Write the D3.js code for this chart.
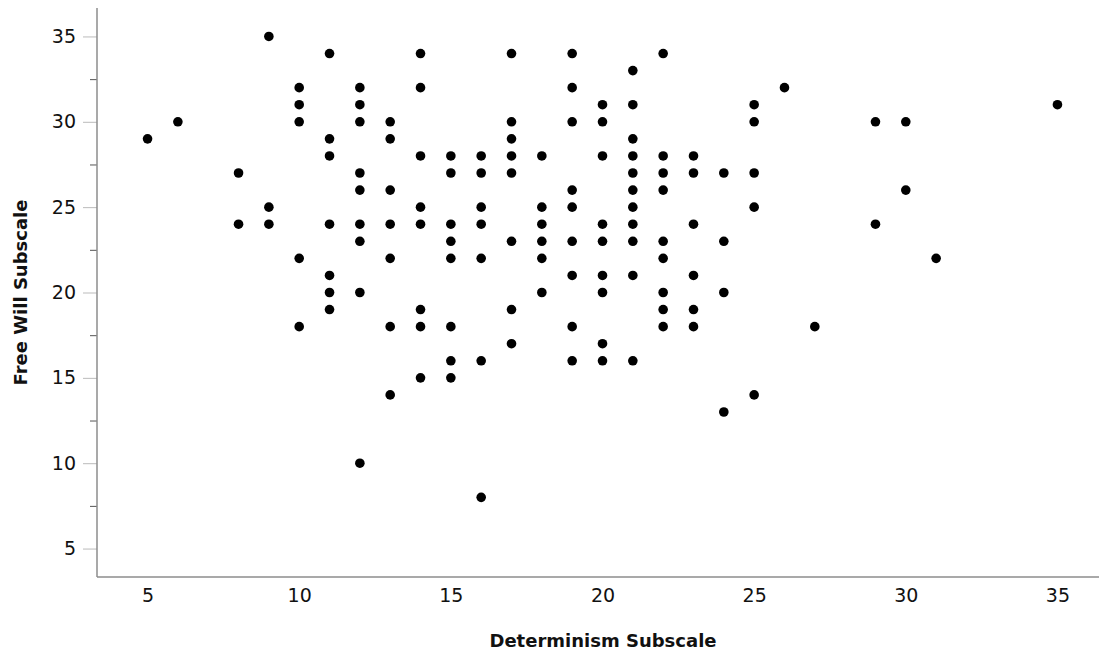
<!DOCTYPE html>
<html>
<head>
<meta charset="utf-8">
<script src="https://cdn.jsdelivr.net/npm/d3@7"></script>
<style>
	body { margin: 0; background: #fff; }
	#chart { width: 1099px; height: 655px; overflow: hidden; }
	text { font-family: "DejaVu Sans", sans-serif; fill: #111; }
	.title { font-weight: bold; font-size: 18px; }
	.tickLabel { font-size: 19px; }
</style>
</head>
<body>
<div id="chart"></div>
<script>
// Determinism subscale values (x), one column per value
var determinism = [5, 6, 8, 9, 10, 11, 12, 13, 14, 15, 16, 17, 18, 19, 20, 21, 22, 23, 24, 25, 26, 27, 29, 30, 31, 35];
// Free will subscale values seen at each determinism value
var freeWill = [
	[29],
	[30],
	[27, 24],
	[35, 25, 24],
	[32, 31, 30, 22, 18],
	[34, 29, 28, 24, 21, 20, 19],
	[32, 31, 30, 27, 26, 24, 23, 20, 10],
	[30, 29, 26, 24, 22, 18, 14],
	[34, 32, 28, 25, 24, 19, 18, 15],
	[28, 27, 24, 23, 22, 18, 16, 15],
	[28, 27, 25, 24, 22, 16, 8],
	[34, 30, 29, 28, 27, 23, 19, 17],
	[28, 25, 24, 23, 22, 20],
	[34, 32, 30, 26, 25, 23, 21, 18, 16],
	[31, 30, 28, 24, 23, 21, 20, 17, 16],
	[33, 31, 29, 28, 27, 26, 25, 24, 23, 21, 16],
	[34, 28, 27, 26, 23, 22, 20, 19, 18],
	[28, 27, 24, 21, 19, 18],
	[27, 23, 20, 13],
	[31, 30, 27, 25, 14],
	[32],
	[18],
	[30, 24],
	[30, 26],
	[22],
	[31]
];
var xTicks = [5, 10, 15, 20, 25, 30, 35];
var yTicks = [5, 10, 15, 20, 25, 30, 35];
var yMinorTicks = [7.5, 12.5, 17.5, 22.5, 27.5, 32.5];
var xTitle = "Determinism Subscale";
var yTitle = "Free Will Subscale";

drawScatter("chart");

function drawScatter(container){
	var margin = { top: 8, left: 97 },
		width = 1011,
		height = 569;

	var svg = d3.select("#" + container).append("svg")
		.attr("width", 1099)
		.attr("height", 655);
	var bodyG = svg.append("g").attr("transform", "translate(" + margin.left + "," + margin.top + ")");

	var x = d3.scaleLinear().domain([10 / 3, 110 / 3]).range([0, width]);
	var y = d3.scaleLinear().domain([10 / 3, 110 / 3]).range([height, 0]);

	// minor y ticks (darker, short)
	var yMinor = bodyG.append("g")
		.call(d3.axisLeft(y).tickValues(yMinorTicks).tickSize(7).tickFormat(""));
	yMinor.select(".domain").remove();
	yMinor.selectAll(".tick line").attr("stroke", "#555").attr("stroke-width", 1);

	// major y ticks with labels
	var yAxis = bodyG.append("g")
		.call(d3.axisLeft(y).tickValues(yTicks).tickSize(14).tickPadding(7));
	yAxis.select(".domain").remove();
	yAxis.selectAll(".tick line").attr("stroke", "#bbb").attr("stroke-width", 1);
	yAxis.selectAll(".tick text").attr("class", "tickLabel").attr("fill", "#111");

	// x axis labels, no ticks
	var xAxis = bodyG.append("g")
		.attr("transform", "translate(0," + height + ")")
		.call(d3.axisBottom(x).tickValues(xTicks).tickSize(0).tickPadding(12));
	xAxis.select(".domain").remove();
	xAxis.selectAll(".tick text").attr("class", "tickLabel").attr("fill", "#111");

	// axis lines
	bodyG.append("line")
		.attr("x1", 0).attr("x2", 0)
		.attr("y1", 0).attr("y2", height)
		.attr("stroke", "#8c8c8c").attr("stroke-width", 1.5);
	bodyG.append("line")
		.attr("x1", 0).attr("x2", width)
		.attr("y1", height).attr("y2", height)
		.attr("stroke", "#8c8c8c").attr("stroke-width", 1.5);

	// points
	var points = [];
	determinism.forEach(function(d, i){
		freeWill[i].forEach(function(v){ points.push({ x: d, y: v }); });
	});
	bodyG.selectAll(".dot")
		.data(points)
		.enter()
		.append("circle")
		.attr("class", "dot")
		.attr("cx", function(d) { return x(d.x); })
		.attr("cy", function(d) { return y(d.y); })
		.attr("r", 4.8)
		.style("fill", "#000");

	// titles
	svg.append("text")
		.attr("class", "title")
		.attr("x", 603)
		.attr("y", 647)
		.style("text-anchor", "middle")
		.text(xTitle);
	svg.append("text")
		.attr("class", "title")
		.attr("transform", "translate(27," + (margin.top + height / 2) + ") rotate(-90)")
		.style("text-anchor", "middle")
		.text(yTitle);
}
</script>
</body>
</html>
